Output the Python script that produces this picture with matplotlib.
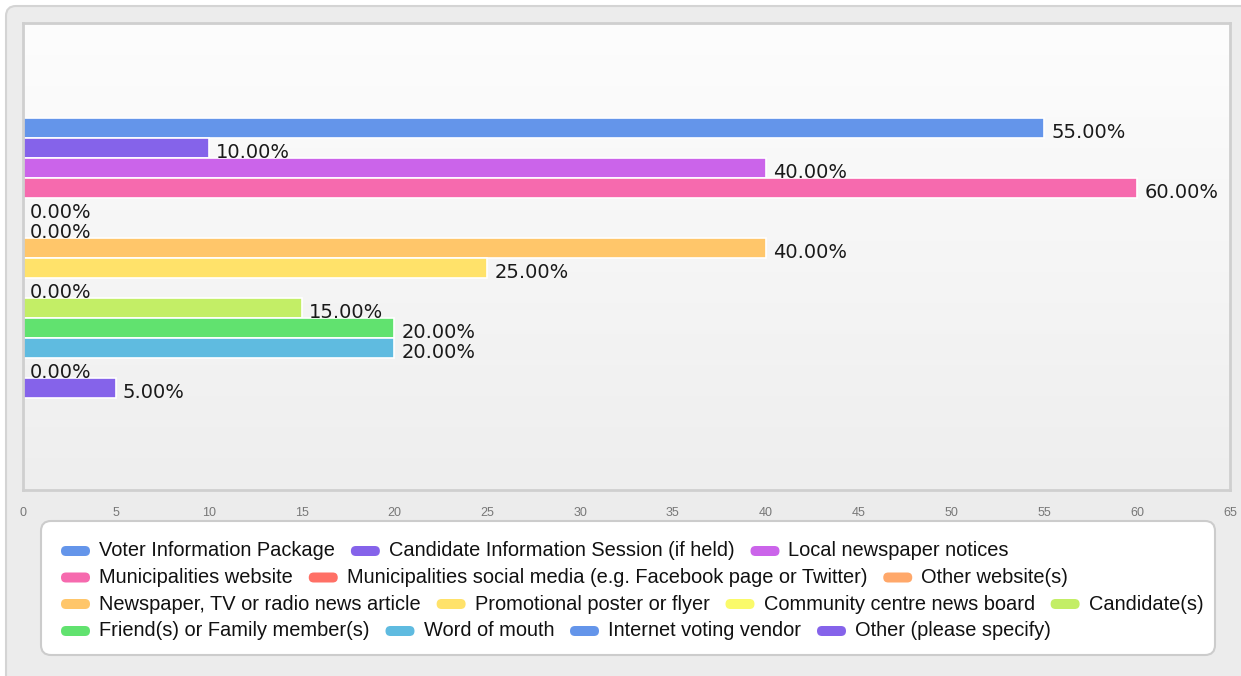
import numpy as np
import matplotlib
matplotlib.use("Agg")
import matplotlib.pyplot as plt
import matplotlib.transforms as mtransforms
from matplotlib.patches import FancyBboxPatch

# survey answers, one bar per option
options = [
    "Voter Information Package",
    "Candidate Information Session (if held)",
    "Local newspaper notices",
    "Municipalities website",
    "Municipalities social media (e.g. Facebook page or Twitter)",
    "Other website(s)",
    "Newspaper, TV or radio news article",
    "Promotional poster or flyer",
    "Community centre news board",
    "Candidate(s)",
    "Friend(s) or Family member(s)",
    "Word of mouth",
    "Internet voting vendor",
    "Other (please specify)",
]
percent = [55, 10, 40, 60, 0, 0, 40, 25, 0, 15, 20, 20, 0, 5]
colors = ["#6495ea", "#8563ea", "#cb64ea", "#f66aae", "#ff7066", "#ffa86a",
          "#ffc66a", "#ffe26a", "#fafa6a", "#c3ee66", "#61e26f", "#5fbbe0",
          "#6495ea", "#8563ea"]
legend_rows = [3, 3, 4, 4]
xticks = list(range(0, 70, 5))

W, H, DPI = 1241, 676, 100
fig = plt.figure(figsize=(W / DPI, H / DPI), dpi=DPI, facecolor="white")
# pixel coords measured from the top-left corner
pix = mtransforms.Affine2D().scale(1 / DPI, -1 / DPI).translate(0, H / DPI) + fig.dpi_scale_trans

# outer grey panel
fig.patches.append(FancyBboxPatch((6, 6), W + 20, H + 20,
                                  boxstyle="round,pad=0,rounding_size=10",
                                  transform=pix, facecolor="#ececec",
                                  edgecolor="#d4d4d4", linewidth=1.5, zorder=0))

ax = fig.add_axes([23 / W, 1 - 490 / H, (1230 - 23) / W, 467 / H])
ax.set_zorder(2)
ax.set_xlim(0, 65)
ax.set_ylim(18.1, -5.25)

# soft vertical gradient in the plot area
grad = np.linspace(0, 1, 256).reshape(-1, 1)
ax.imshow(grad, extent=[0, 65, 18.1, -5.25], aspect="auto", zorder=0,
          cmap=matplotlib.colors.LinearSegmentedColormap.from_list("bg", ["#fdfdfd", "#eeeeee"]))

pos = np.arange(len(percent))
ax.barh(pos, percent, height=1.0, color=colors, edgecolor="white", linewidth=1.2, zorder=2)

for y, v in zip(pos, percent):
    ax.annotate(f"{v:.2f}%", xy=(v, y), xytext=(7, -4.5), textcoords="offset pixels",
                ha="left", va="center", fontsize=14, color="#1a1a1a",
                family="DejaVu Sans", zorder=3, annotation_clip=False)

for s in ax.spines.values():
    s.set_color("#cfcfcf")
    s.set_linewidth(2)
ax.set_yticks([])
ax.set_xticks(xticks)
ax.set_xticklabels([str(t) for t in xticks], fontsize=9, color="#777777",
                   family="Liberation Sans")
ax.tick_params(axis="x", length=0, pad=12)

# legend box with flowing rows
fig.patches.append(FancyBboxPatch((41, 521), 1215 - 41, 655 - 521,
                                  boxstyle="round,pad=0,rounding_size=10",
                                  transform=pix, facecolor="white",
                                  edgecolor="#cccccc", linewidth=1.5, zorder=1))

fig.canvas.draw()
renderer = fig.canvas.get_renderer()
row_y = [551, 577.5, 604, 631]
k = 0
for r, n in enumerate(legend_rows):
    x = 61
    y = row_y[r]
    for _ in range(n):
        fig.patches.append(FancyBboxPatch((x, y - 5), 29, 10,
                                          boxstyle="round,pad=0,rounding_size=5",
                                          transform=pix, facecolor=colors[k],
                                          edgecolor="none", zorder=2))
        t = fig.text(x + 38, y, options[k], transform=pix, ha="left", va="center",
                     fontsize=14.4, color="#111111", family="Liberation Sans", zorder=3)
        wpx = t.get_window_extent(renderer).width
        x = x + 38 + wpx + 16
        k += 1

fig.savefig("out.png", dpi=DPI, facecolor="white")
